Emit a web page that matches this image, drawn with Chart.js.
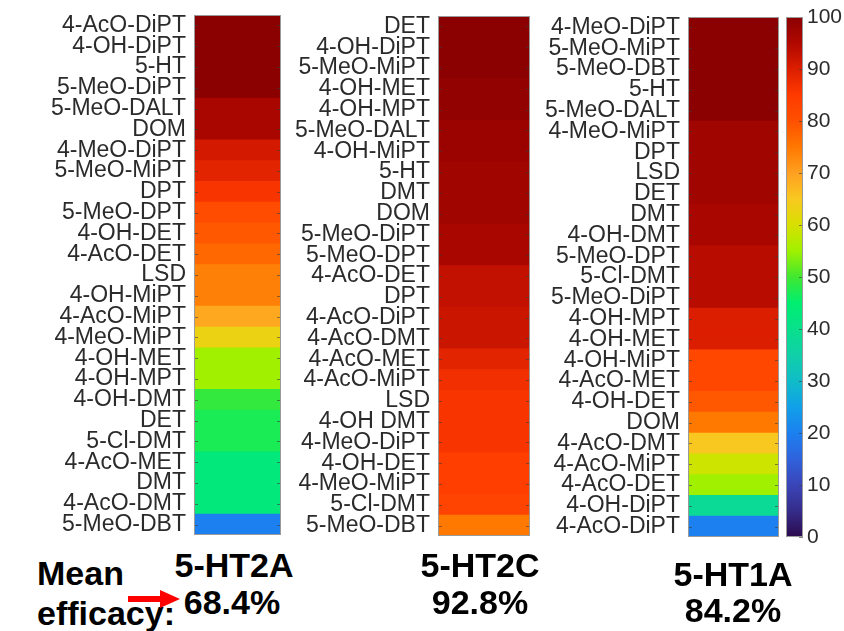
<!DOCTYPE html>
<html>
<head>
<meta charset="utf-8">
<script src="https://cdn.jsdelivr.net/npm/chart.js@4.4.0/dist/chart.umd.min.js"></script>
<style>
  body { margin: 0; background: #fff; }
  #wrap { position: relative; width: 844px; height: 631px; overflow: hidden; font-family: 'Liberation Sans', Arial, sans-serif; }
  .box { position: absolute; top: 0; }
  .lbl { position: absolute; font-weight: bold; font-size: 34px; line-height: 1; color: #000; white-space: nowrap; text-align: center; }
</style>
</head>
<body>
<div id="wrap">
  <div class="box" style="left:0;width:281px;height:545px"><canvas id="c1"></canvas></div>
  <div class="box" style="left:285px;width:245px;height:546px"><canvas id="c2"></canvas></div>
  <div class="box" style="left:535px;width:244px;height:547px"><canvas id="c3"></canvas></div>
  <div class="box" style="left:786px;width:58px;height:560px"><canvas id="cbar"></canvas></div>

  <div class="lbl" style="left:174px;width:120px;top:548px">5-HT2A</div>
  <div class="lbl" style="left:172px;width:120px;top:585px">68.4%</div>
  <div class="lbl" style="left:420px;width:120px;top:548px">5-HT2C</div>
  <div class="lbl" style="left:420px;width:120px;top:585px">92.8%</div>
  <div class="lbl" style="left:673px;width:120px;top:557px">5-HT1A</div>
  <div class="lbl" style="left:673px;width:120px;top:593px">84.2%</div>
  <div class="lbl" style="left:37px;top:556px;text-align:left">Mean</div>
  <div class="lbl" style="left:37px;top:596px;text-align:left">efficacy:</div>
  <svg style="position:absolute;left:126px;top:588px" width="56" height="22">
    <rect x="2" y="8" width="36" height="6" fill="#ff0000"></rect>
    <polygon points="34,2 54,11 34,20" fill="#ff0000"></polygon>
  </svg>
</div>

<script>
// 5-HT2A
const names2A = ['4-AcO-DiPT', '4-OH-DiPT', '5-HT', '5-MeO-DiPT', '5-MeO-DALT', 'DOM', '4-MeO-DiPT', '5-MeO-MiPT',
  'DPT', '5-MeO-DPT', '4-OH-DET', '4-AcO-DET', 'LSD', '4-OH-MiPT', '4-AcO-MiPT', '4-MeO-MiPT', '4-OH-MET',
  '4-OH-MPT', '4-OH-DMT', 'DET', '5-Cl-DMT', '4-AcO-MET', 'DMT', '4-AcO-DMT', '5-MeO-DBT'];
const eff2A = [100, 100, 100, 100, 96, 96, 91, 89, 86, 81, 79, 77, 74, 74, 69, 63, 55, 55, 49, 47, 47, 43, 43, 43, 20];

// 5-HT2C
const names2C = ['DET', '4-OH-DiPT', '5-MeO-MiPT', '4-OH-MET', '4-OH-MPT', '5-MeO-DALT', '4-OH-MiPT', '5-HT', 'DMT',
  'DOM', '5-MeO-DiPT', '5-MeO-DPT', '4-AcO-DET', 'DPT', '4-AcO-DiPT', '4-AcO-DMT', '4-AcO-MET', '4-AcO-MiPT',
  'LSD', '4-OH DMT', '4-MeO-DiPT', '4-OH-DET', '4-MeO-MiPT', '5-Cl-DMT', '5-MeO-DBT'];
const eff2C = [100, 100, 100, 99, 99, 98, 98, 97, 97, 97, 96, 96, 93, 93, 92, 92, 89, 87, 86, 86, 86, 84, 84, 83, 75];

// 5-HT1A
const names1A = ['4-MeO-DiPT', '5-MeO-MiPT', '5-MeO-DBT', '5-HT', '5-MeO-DALT', '4-MeO-MiPT', 'DPT', 'LSD', 'DET',
  'DMT', '4-OH-DMT', '5-MeO-DPT', '5-Cl-DMT', '5-MeO-DiPT', '4-OH-MPT', '4-OH-MET', '4-OH-MiPT', '4-AcO-MET',
  '4-OH-DET', 'DOM', '4-AcO-DMT', '4-AcO-MiPT', '4-AcO-DET', '4-OH-DiPT', '4-AcO-DiPT'];
const eff1A = [100, 100, 100, 100, 100, 97, 97, 97, 97, 96, 96, 94, 94, 94, 90, 90, 82, 82, 79, 75, 65, 59, 55, 38, 20];

// colorbar ticks
const cbarTicks = [0, 10, 20, 30, 40, 50, 60, 70, 80, 90, 100];

// colormap (value -> colour), roughly the figure's jet-like map
const cmap = [
  [0, '#2b0a4e'], [5, '#352c8a'], [10, '#3a45b8'], [15, '#2f62dc'], [20, '#1c80f0'], [25, '#10a0e8'],
  [30, '#10bcc8'], [35, '#10d0a8'], [40, '#08e08c'], [45, '#00ee70'], [50, '#40e830'], [55, '#a0f000'],
  [60, '#d8e000'], [65, '#f8c820'], [70, '#ffa020'], [75, '#ff7800'], [80, '#ff5000'], [85, '#ff3a00'],
  [90, '#dc1e00'], [95, '#b00800'], [100, '#8b0000']
];

function hexRgb(h) {
  return [parseInt(h.slice(1, 3), 16), parseInt(h.slice(3, 5), 16), parseInt(h.slice(5, 7), 16)];
}

function colorFor(v) {
  for (let i = 1; i < cmap.length; i++) {
    if (v <= cmap[i][0]) {
      const a = hexRgb(cmap[i - 1][1]), b = hexRgb(cmap[i][1]);
      const t = (v - cmap[i - 1][0]) / (cmap[i][0] - cmap[i - 1][0]);
      const c = a.map((x, k) => Math.round(x + (b[k] - x) * t));
      return 'rgb(' + c.join(',') + ')';
    }
  }
  return cmap[cmap.length - 1][1];
}

const labelFont = { family: "'Liberation Sans', Arial, sans-serif", size: 23, lineHeight: 1 };

// grey frame and little inward ticks, like the original figure
const frame = {
  id: 'frame',
  afterDatasetsDraw(chart) {
    const { ctx, chartArea: a } = chart;
    const ys = chart.scales.y;
    ctx.save();
    ctx.strokeStyle = 'rgba(60,60,60,0.6)';
    ctx.lineWidth = 1;
    ys.ticks.forEach((t, i) => {
      const y = Math.round(ys.getPixelForTick(i)) + 0.5;
      ctx.beginPath();
      ctx.moveTo(a.left, y); ctx.lineTo(a.left + 4, y);
      ctx.moveTo(a.right - 4, y); ctx.lineTo(a.right, y);
      ctx.stroke();
    });
    ctx.strokeStyle = '#9a9a9a';
    ctx.strokeRect(a.left + 0.5, a.top + 0.5, a.width - 1, a.height - 1);
    ctx.restore();
  }
};

// fixed axis width, no extra room for half labels at the ends
function fixAxis(width) {
  return s => {
    s.width = width;
    s.paddingTop = 0;
    s.paddingBottom = 0;
  };
}

function heatColumn(id, names, values, top, axisWidth) {
  return new Chart(document.getElementById(id), {
    type: 'bar',
    data: {
      labels: names,
      datasets: [{
        data: names.map(() => [0, 1]),
        backgroundColor: values.map(v => colorFor(v)),
        borderWidth: 0,
        barPercentage: 1,
        categoryPercentage: 1
      }]
    },
    options: {
      indexAxis: 'y',
      responsive: true,
      maintainAspectRatio: false,
      animation: false,
      layout: { padding: { top: top, bottom: 10, left: 0, right: 0 } },
      plugins: { legend: { display: false }, tooltip: { enabled: false } },
      scales: {
        x: { display: false, min: 0, max: 1 },
        y: {
          grid: { display: false, drawTicks: false },
          border: { display: false },
          ticks: { autoSkip: false, padding: 8, color: '#2b2b2b', font: labelFont },
          afterFit: fixAxis(axisWidth)
        }
      }
    },
    plugins: [frame]
  });
}

heatColumn('c1', names2A, eff2A, 15, 194);
heatColumn('c2', names2C, eff2C, 16, 153);
heatColumn('c3', names1A, eff1A, 17, 153);

// colorbar: gradient painted through the y scale
const colorbar = {
  id: 'colorbar',
  beforeDatasetsDraw(chart) {
    const { ctx, chartArea: a } = chart;
    const ys = chart.scales.y;
    const g = ctx.createLinearGradient(0, ys.getPixelForValue(0), 0, ys.getPixelForValue(100));
    cmap.forEach(s => g.addColorStop(s[0] / 100, s[1]));
    ctx.save();
    ctx.fillStyle = g;
    ctx.fillRect(a.left, a.top, a.width, a.height);
    ctx.strokeStyle = 'rgba(60,60,60,0.6)';
    ys.ticks.forEach(t => {
      const y = Math.round(ys.getPixelForValue(t.value)) + 0.5;
      ctx.beginPath();
      ctx.moveTo(a.right - 4, y); ctx.lineTo(a.right, y);
      ctx.stroke();
    });
    ctx.strokeStyle = '#9a9a9a';
    ctx.strokeRect(a.left + 0.5, a.top + 0.5, a.width - 1, a.height - 1);
    ctx.restore();
  }
};

new Chart(document.getElementById('cbar'), {
  type: 'bar',
  data: { labels: [''], datasets: [] },
  options: {
    responsive: true,
    maintainAspectRatio: false,
    animation: false,
    layout: { padding: { top: 17, bottom: 23, left: 0, right: 0 } },
    plugins: { legend: { display: false }, tooltip: { enabled: false } },
    scales: {
      x: { display: false },
      y: {
        position: 'right',
        min: 0,
        max: 100,
        afterBuildTicks: s => { s.ticks = cbarTicks.map(v => ({ value: v })); },
        grid: { display: false, drawTicks: false },
        border: { display: false },
        ticks: { autoSkip: false, padding: 4, color: '#2b2b2b', font: { family: "'Liberation Sans', Arial, sans-serif", size: 21 } },
        afterFit: fixAxis(41)
      }
    }
  },
  plugins: [colorbar]
});
</script>
</body>
</html>
